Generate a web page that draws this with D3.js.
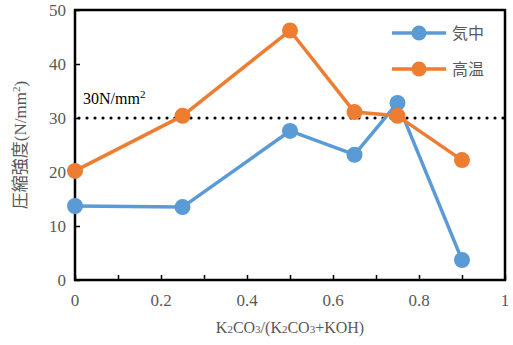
<!DOCTYPE html>
<html>
<head>
	<meta charset="utf-8">
	<title></title>
	<style>
		body { margin: 0; background: #fff; }
		.serif { font-family: "Liberation Serif", "DejaVu Serif", "Times New Roman", Times, serif; }
	</style>
</head>
<body>
	<svg id="container" height="345" width="513"></svg>
</body>
<script src="https://d3js.org/d3.v7.min.js"></script>
<script>
	// data
	let ratios = [0, 0.25, 0.5, 0.65, 0.75, 0.9]
	let kichu = [13.7, 13.5, 27.6, 23.2, 32.8, 3.7]   // 気中
	let kouon = [20.2, 30.4, 46.2, 31.1, 30.4, 22.2]  // 高温
	let seriesNames = ["気中", "高温"]
	let xTicks = [0, 0.2, 0.4, 0.6, 0.8, 1]
	let yTicks = [0, 10, 20, 30, 40, 50]
	let target = 30

	let colors = ["#5B9BD5", "#ED7D31"]
	let svg = d3.select("#container")

	let pLeft = 75, pRight = 505, pTop = 10, pBottom = 280
	let x = d3.scaleLinear().domain([0, 1]).range([pLeft, pRight])
	let y = d3.scaleLinear().domain([0, 50]).range([pBottom, pTop])

	let grey = "#595959"
	let cjk = "'Noto Sans CJK JP', sans-serif"

	// inward ticks
	svg.append("g")
		.attr("transform", `translate(0,${pBottom})`)
		.call(d3.axisTop(x).tickValues(d3.range(0, 1.01, 0.1)).tickSize(5).tickFormat(""))
		.call(g => g.select(".domain").remove())
		.call(g => g.selectAll("line").attr("stroke", "#000").attr("stroke-width", 1.5))
	svg.append("g")
		.attr("transform", `translate(${pLeft},0)`)
		.call(d3.axisRight(y).tickValues(yTicks).tickSize(5).tickFormat(""))
		.call(g => g.select(".domain").remove())
		.call(g => g.selectAll("line").attr("stroke", "#000").attr("stroke-width", 1.5))

	// tick labels
	svg.append("g").selectAll("text")
		.data(xTicks).enter().append("text")
		.attr("class", "serif")
		.attr("x", d => x(d)).attr("y", 306)
		.attr("text-anchor", "middle")
		.attr("font-size", 17).attr("fill", grey)
		.text(d => d)
	svg.append("g").selectAll("text")
		.data(yTicks).enter().append("text")
		.attr("class", "serif")
		.attr("x", 66).attr("y", d => y(d) + 6)
		.attr("text-anchor", "end")
		.attr("font-size", 17).attr("fill", grey)
		.text(d => d)

	// frame
	svg.append("rect")
		.attr("x", pLeft).attr("y", pTop)
		.attr("width", pRight - pLeft).attr("height", pBottom - pTop)
		.attr("fill", "none").attr("stroke", "#000").attr("stroke-width", 2.5)

	// 30 N/mm2 line
	svg.append("line")
		.attr("x1", x(0) + 4).attr("x2", x(1))
		.attr("y1", y(target)).attr("y2", y(target))
		.attr("stroke", "#000").attr("stroke-width", 3.2)
		.attr("stroke-linecap", "round").attr("stroke-dasharray", "0,8")
	let lbl = svg.append("text")
		.attr("class", "serif")
		.attr("x", 83).attr("y", 104)
		.attr("font-size", 16).attr("fill", "#000")
	lbl.append("tspan").text("30N/mm")
	lbl.append("tspan").attr("dy", -6).attr("font-size", 11).text("2")

	// series
	let line = d3.line().x((d, i) => x(ratios[i])).y(d => y(d))
	;[kichu, kouon].forEach((vals, k) => {
		svg.append("path")
			.attr("d", line(vals))
			.attr("fill", "none").attr("stroke", colors[k])
			.attr("stroke-width", 3.5).attr("stroke-linejoin", "round")
		svg.append("g").selectAll("circle")
			.data(vals).enter().append("circle")
			.attr("cx", (d, i) => x(ratios[i])).attr("cy", d => y(d))
			.attr("r", 8).attr("fill", colors[k])
	})

	// legend
	seriesNames.forEach((name, k) => {
		let ly = 33 + k * 36
		svg.append("line")
			.attr("x1", 392).attr("x2", 446).attr("y1", ly).attr("y2", ly)
			.attr("stroke", colors[k]).attr("stroke-width", 3.5)
		svg.append("circle").attr("cx", 419).attr("cy", ly).attr("r", 7.5).attr("fill", colors[k])
		svg.append("text")
			.attr("x", 452).attr("y", ly + 6)
			.attr("font-family", cjk).attr("font-size", 16)
			.attr("fill", grey).text(name)
	})

	// axis titles
	let xt = svg.append("text")
		.attr("class", "serif")
		.attr("x", 290).attr("y", 333).attr("text-anchor", "middle")
		.attr("font-size", 16).attr("fill", grey)
	let parts = [["K", 0], ["2", 1], ["CO", 0], ["3", 1], ["/(K", 0], ["2", 1], ["CO", 0], ["3", 1], ["+KOH)", 0]]
	parts.forEach(p => {
		xt.append("tspan").attr("font-size", p[1] ? 11 : 16).text(p[0])
	})

	let yt = svg.append("text")
		.attr("class", "serif")
		.attr("transform", "translate(26,145) rotate(-90)")
		.attr("text-anchor", "middle").attr("fill", grey).attr("font-size", 17)
	yt.append("tspan").attr("font-family", cjk).text("圧縮強度")
	yt.append("tspan").text("(N/mm")
	yt.append("tspan").attr("font-size", 11).attr("dy", -6).text("2")
	yt.append("tspan").attr("dy", 6).text(")")
</script>
</html>
